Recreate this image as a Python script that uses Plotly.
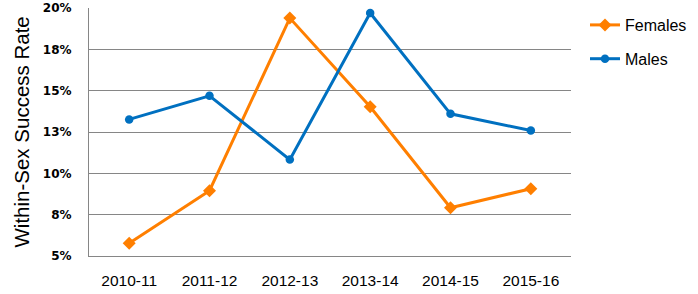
import plotly.graph_objects as go

years = ["2010-11", "2011-12", "2012-13", "2013-14", "2014-15", "2015-16"]
females = [0.0577, 0.0895, 0.1939, 0.1403, 0.0792, 0.0907]
males = [0.1326, 0.1469, 0.1083, 0.1970, 0.1360, 0.1259]
y_tickvals = [0.05, 0.075, 0.10, 0.125, 0.15, 0.175, 0.20]
y_ticktext = ["5%", "8%", "10%", "13%", "15%", "18%", "20%"]

W, H = 698, 294
L, R, T, B = 89, 127, 8, 38
pw = W - L - R

fig = go.Figure()
fig.add_trace(go.Scatter(
    x=years, y=females, name="Females", mode="lines+markers", legendgroup="f",
    line=dict(color="#FF7F00", width=3),
    marker=dict(symbol="diamond", size=10, color="#FF7F00"),
))
fig.add_trace(go.Scatter(
    x=years, y=males, name="Males", mode="lines+markers", legendgroup="m",
    line=dict(color="#0070C0", width=3),
    marker=dict(symbol="circle", size=8.5, color="#0070C0"),
))

fig.update_layout(
    width=W, height=H,
    margin=dict(l=L, r=R, t=T, b=B, pad=0, autoexpand=False),
    paper_bgcolor="white", plot_bgcolor="white",
    font=dict(family="Liberation Sans, Arial, sans-serif", color="black"),
    showlegend=True,
    legend=dict(
        x=(585 - L) / pw, y=1.0, xanchor="left", yanchor="top",
        font=dict(size=16, family="Liberation Sans, Arial, sans-serif"),
        traceorder="grouped", tracegroupgap=10, itemwidth=30,
        bgcolor="rgba(0,0,0,0)",
    ),
    xaxis=dict(
        type="category", range=[-0.5, 5.5], automargin=False,
        showgrid=False, showline=True, linecolor="#868686", linewidth=1,
        ticks="", tickfont=dict(size=15.5, color="black"),
        ticklabelstandoff=10, fixedrange=True,
    ),
    yaxis=dict(
        range=[0.05, 0.20], tickvals=y_tickvals, ticktext=y_ticktext,
        automargin=False,
        showgrid=True, gridcolor="#868686", gridwidth=1,
        showline=True, linecolor="#868686", linewidth=1,
        zeroline=False, ticks="",
        tickfont=dict(size=12, family="DejaVu Sans, Verdana, sans-serif", color="black", weight="bold"),
        ticklabelstandoff=14,
    ),
    annotations=[dict(
        text="Within-Sex Success Rate", textangle=-90,
        xref="paper", yref="paper", x=(20.5 - L) / pw, y=0.5,
        xanchor="center", yanchor="middle", showarrow=False,
        font=dict(size=20.5, family="Liberation Sans, Arial, sans-serif", color="black"),
    )],
)

fig.write_html("out.html")
